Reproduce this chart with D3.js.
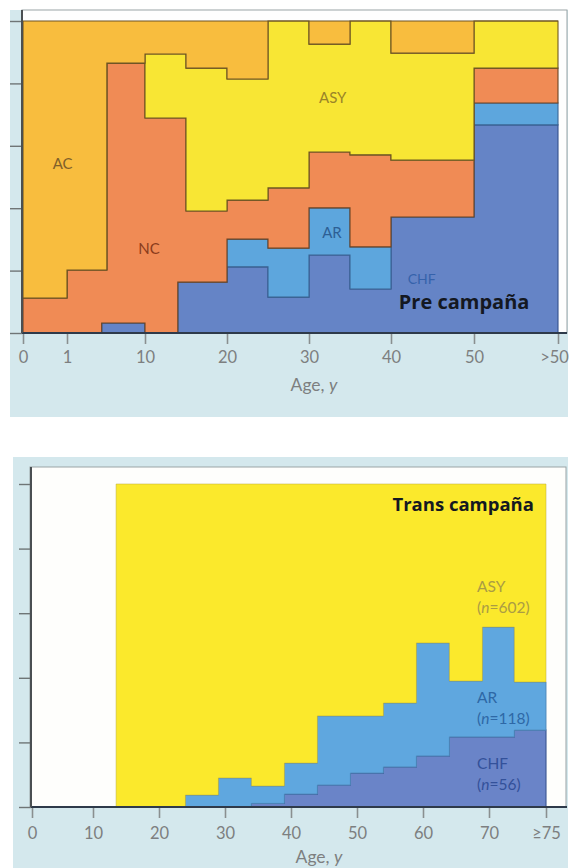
<!DOCTYPE html>
<html><head><meta charset="utf-8">
<script src="https://cdn.jsdelivr.net/npm/d3@7"></script>
<style>body{margin:0;background:#fff}svg{display:block}</style>
</head><body>
<svg id="c" width="571" height="868"></svg>
<script>
// ---------------- DATA ----------------
// Top chart (Pre campaña): age bin edges and % share per bin
const topAgeEdges = [0, 1, 5, 5.6, 10, 14, 15, 20, 25, 30, 35, 40, 50, 60];
const topCHF = [0, 0, 3.2, 3.2, 0, 16.3, 16.3, 21.2, 11.5, 25.0, 14.1, 37.2, 66.7];
const topAR  = [0, 0, 0, 0, 0, 0, 0, 8.9, 15.7, 15.1, 13.5, 0, 7.0];
const topNC  = [11.2, 20.2, 17.0, 83.3, 68.9, 52.6, 22.8, 12.5, 19.3, 17.9, 29.5, 18.2, 11.2];
const topASY = [0, 0, 0, 0, 20.5, 20.5, 45.8, 38.8, 53.5, 34.6, 42.9, 34.3, 15.1];
const topAC  = [88.8, 79.8, 79.8, 13.5, 10.6, 10.6, 15.1, 18.6, 0, 7.4, 0, 10.3, 0];
const topTickValues = [0, 1, 10, 20, 30, 40, 50, 60];
const topTickLabels = ["0", "1", "10", "20", "30", "40", "50", ">50"];

// Bottom chart (Trans campaña)
const botAgeEdges = [13.5, 24, 29, 34, 39, 44, 49, 54, 59, 64, 69, 74, 79];
const botCHF = [0, 0, 0, 1.1, 4.0, 6.8, 10.5, 12.4, 15.8, 21.7, 21.7, 23.8];
const botAR  = [0, 3.7, 9.0, 5.4, 9.6, 21.4, 17.7, 19.8, 35.0, 17.3, 34.0, 14.9];
const botASY = [100, 96.3, 91.0, 93.5, 86.4, 71.8, 71.8, 67.8, 49.2, 61.0, 44.3, 61.3];
const botTickValues = [0, 10, 20, 30, 40, 50, 60, 70, 79];
const botTickLabels = ["0", "10", "20", "30", "40", "50", "60", "70", "\u226575"];

const yTickValues = [0, 20, 40, 60, 80, 100];

// ---------------- STYLE ----------------
const colors = {CHF: "#6584c6", AR: "#5da6dd", NC: "#f08b55", ASY: "#f8e634", AC: "#f8bd3e"};
const panelBg = "#d4e8ed";
const svg = d3.select("#c");

function buildRows(edges, series, keys) {
  const rows = [];
  const n = edges.length - 1;
  for (let i = 0; i <= n; i++) {
    const j = Math.min(i, n - 1);
    const r = {age: edges[i]};
    keys.forEach((k, ki) => r[k] = series[ki][j]);
    rows.push(r);
  }
  return rows;
}

function drawAxes(g, x, y, tickVals, tickLabs, axisX, x1, yTop, tickLen, pad, lastDx) {
  const ax = g.append("g").attr("transform", `translate(0,${y(0)})`)
    .call(d3.axisBottom(x).tickValues(tickVals).tickFormat((d, i) => tickLabs[i]).tickSize(tickLen).tickPadding(pad));
  ax.select(".domain").remove();
  ax.selectAll(".tick line").attr("stroke", "#8a8f90").attr("stroke-width", 1.6);
  ax.selectAll(".tick text").attr("fill", "#7d7f80").attr("font-family", "Lato, 'Open Sans', sans-serif").attr("font-size", 16.5)
    .attr("dx", (d, i) => i === tickVals.length - 1 ? lastDx : 0);
  const ay = g.append("g").attr("transform", `translate(${axisX},0)`)
    .call(d3.axisLeft(y).tickValues(yTickValues).tickFormat("").tickSize(12));
  ay.select(".domain").remove();
  ay.selectAll(".tick line").attr("stroke", "#6f7576").attr("stroke-width", 1.4);
  g.append("line").attr("x1", axisX).attr("x2", x1).attr("y1", y(0)).attr("y2", y(0))
    .attr("stroke", "#2e3a4a").attr("stroke-width", 2.2);
  g.append("line").attr("x1", axisX).attr("x2", axisX).attr("y1", yTop).attr("y2", y(0))
    .attr("stroke", "#4a4f52").attr("stroke-width", 2);
}

// ================= TOP CHART =================
(function () {
  const g = svg.append("g");
  g.append("rect").attr("x", 10).attr("y", 10).attr("width", 558).attr("height", 407).attr("fill", panelBg);
  g.append("rect").attr("x", 22).attr("y", 10).attr("width", 545).attr("height", 323).attr("fill", "#fefefe")
    .attr("stroke", "#9aa3a6").attr("stroke-width", 1);
  const x = d3.scaleLinear().domain(topTickValues).range([23, 67, 145, 227, 309, 391, 474, 558]);
  const y = d3.scaleLinear().domain([0, 100]).range([333, 21]);
  const keys = ["CHF", "AR", "NC", "ASY", "AC"];
  const rows = buildRows(topAgeEdges, [topCHF, topAR, topNC, topASY, topAC], keys);
  const stacked = d3.stack().keys(keys)(rows);
  const area = d3.area().x(d => x(d.data.age)).y0(d => y(d[0])).y1(d => y(d[1])).curve(d3.curveStepAfter);
  const strokes = {CHF: "#34508c", AR: "#3a6594", NC: "#6a4424", ASY: "#6e5a22", AC: "#6e5424"};
  g.selectAll("path.layer").data(stacked).join("path").attr("class", "layer")
    .attr("d", area).attr("fill", s => colors[s.key])
    .attr("stroke", s => strokes[s.key]).attr("stroke-width", 1.1).attr("stroke-linejoin", "miter");
  drawAxes(g, x, y, topTickValues, topTickLabels, 22, 567, 10, 11, 7, -4);

  const labels = [
    {t: "AC", age: 0.9, p: 54.5, c: "#80602a", s: 15},
    {t: "NC", age: 10.5, p: 27.2, c: "#8a3c1c", s: 15},
    {t: "ASY", age: 32.9, p: 75.6, c: "#9a8428", s: 15},
    {t: "AR", age: 32.8, p: 32.4, c: "#2d5f95", s: 15},
    {t: "CHF", age: 43.7, p: 17.6, c: "#3562ab", s: 14}
  ];
  g.selectAll("text.lab").data(labels).join("text").attr("class", "lab")
    .attr("x", d => x(d.age)).attr("y", d => y(d.p)).attr("text-anchor", "middle").attr("dominant-baseline", "central")
    .attr("fill", d => d.c).attr("font-family", "Lato, sans-serif").attr("font-size", d => d.s).text(d => d.t);
  g.append("text").attr("x", x(56.6)).attr("y", y(7.7)).attr("text-anchor", "end")
    .attr("font-family", "'Open Sans', sans-serif").attr("font-weight", 700).attr("font-size", 20)
    .attr("fill", "#141821").text("Pre campaña");
  const at = g.append("text").attr("x", 314).attr("y", 391).attr("text-anchor", "middle")
    .attr("fill", "#7d7f80").attr("font-family", "Lato, sans-serif").attr("font-size", 17.5);
  at.append("tspan").text("Age, ");
  at.append("tspan").attr("font-style", "italic").text("y");
})();

// ================= BOTTOM CHART =================
(function () {
  const g = svg.append("g");
  g.append("rect").attr("x", 13).attr("y", 457).attr("width", 555).attr("height", 411).attr("fill", panelBg);
  g.append("rect").attr("x", 30).attr("y", 467).attr("width", 536).attr("height", 340).attr("fill", "#fefefc")
    .attr("stroke", "#9aa3a6").attr("stroke-width", 1);
  const x = d3.scaleLinear().domain([0, 10, 70, 79]).range([32, 93, 489, 546]);
  const y = d3.scaleLinear().domain([0, 100]).range([807, 484]);
  const keys = ["CHF", "AR", "ASY"];
  const rows = buildRows(botAgeEdges, [botCHF, botAR, botASY], keys);
  const stacked = d3.stack().keys(keys)(rows);
  const area = d3.area().x(d => x(d.data.age)).y0(d => y(d[0])).y1(d => y(d[1])).curve(d3.curveStepAfter);
  const fills = {CHF: "#6a84c8", AR: "#5fa7df", ASY: "#fbe92c"};
  const strokes = {CHF: "#3a5592", AR: "#4d86b8", ASY: "#b8a83a"};
  const sw = {CHF: 1.1, AR: 0.9, ASY: 0.5};
  g.selectAll("path.layer").data(stacked).join("path").attr("class", "layer")
    .attr("d", area).attr("fill", s => fills[s.key])
    .attr("stroke", s => strokes[s.key]).attr("stroke-width", s => sw[s.key]);
  drawAxes(g, x, y, botTickValues, botTickLabels, 31, 567, 467, 11, 9, 0);

  const lab = [
    {t: "ASY", n: "602", age: 68.2, p: 68.4, c: "#aa9c44"},
    {t: "AR", n: "118", age: 68.2, p: 34.1, c: "#2e68a6"},
    {t: "CHF", n: "56", age: 68.2, p: 13.6, c: "#33519a"}
  ];
  lab.forEach(d => {
    g.append("text").attr("x", x(d.age)).attr("y", y(d.p)).attr("dominant-baseline", "central")
      .attr("fill", d.c).attr("font-family", "Lato, sans-serif").attr("font-size", 15.5).text(d.t);
    const t2 = g.append("text").attr("x", x(d.age)).attr("y", y(d.p) + 21).attr("dominant-baseline", "central")
      .attr("fill", d.c).attr("font-family", "Lato, sans-serif").attr("font-size", 15.5);
    t2.append("tspan").text("(");
    t2.append("tspan").attr("font-style", "italic").text("n");
    t2.append("tspan").text("=" + d.n + ")");
  });
  g.append("text").attr("x", x(77.1)).attr("y", y(91.6)).attr("text-anchor", "end")
    .attr("font-family", "'Open Sans', sans-serif").attr("font-weight", 700).attr("font-size", 18.5)
    .attr("fill", "#141821").text("Trans campaña");
  const at = g.append("text").attr("x", 319).attr("y", 863).attr("text-anchor", "middle")
    .attr("fill", "#7d7f80").attr("font-family", "Lato, sans-serif").attr("font-size", 17.5);
  at.append("tspan").text("Age, ");
  at.append("tspan").attr("font-style", "italic").text("y");
})();
</script>
</body></html>
